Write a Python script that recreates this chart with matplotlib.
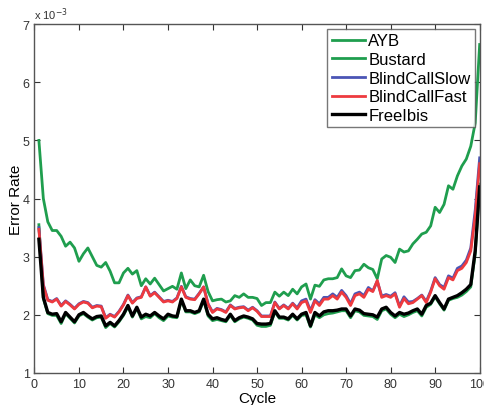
import numpy as np
import matplotlib
matplotlib.use("Agg")
import matplotlib.pyplot as plt

plt.rcParams['font.family'] = ['Liberation Sans', 'DejaVu Sans']

cycles = list(range(1, 101))

# error rates in units of 1e-3
bustard = [5.0, 4.0, 3.6, 3.45, 3.45, 3.35, 3.18, 3.25, 3.15, 2.92,
           3.05, 3.15, 3.0, 2.85, 2.82, 2.9, 2.75, 2.55, 2.55, 2.72,
           2.8, 2.7, 2.76, 2.5, 2.62, 2.53, 2.63, 2.52, 2.41, 2.45,
           2.49, 2.44, 2.72, 2.45, 2.6, 2.5, 2.48, 2.68, 2.4, 2.24,
           2.26, 2.27, 2.22, 2.24, 2.33, 2.3, 2.36, 2.3, 2.3, 2.28,
           2.16, 2.21, 2.21, 2.39, 2.32, 2.39, 2.33, 2.44, 2.36, 2.48,
           2.53, 2.27, 2.51, 2.49, 2.6, 2.62, 2.62, 2.64, 2.79, 2.67,
           2.64, 2.76, 2.77, 2.87, 2.81, 2.78, 2.62, 2.96, 3.02, 2.99,
           2.9, 3.13, 3.08, 3.1, 3.22, 3.3, 3.39, 3.42, 3.53, 3.85,
           3.76, 3.9, 4.22, 4.16, 4.39, 4.56, 4.68, 4.9, 5.3, 6.65]

ayb = [3.55, 2.28, 2.02, 1.99, 1.99, 1.85, 2.02, 1.94, 1.86, 1.98,
       2.02, 1.96, 1.91, 1.95, 1.96, 1.78, 1.85, 1.79, 1.88, 1.99,
       2.14, 1.96, 2.11, 1.93, 1.97, 1.95, 2.02, 1.95, 1.9, 1.98,
       1.96, 1.95, 2.25, 2.05, 2.05, 2.02, 2.05, 2.25, 1.98, 1.9,
       1.92, 1.9, 1.88, 1.99, 1.88, 1.93, 1.96, 1.94, 1.91, 1.82,
       1.8, 1.8, 1.82, 2.05, 1.94, 1.94, 1.91, 1.99, 1.91, 1.99,
       2.0, 1.79, 2.0, 1.95, 2.0, 2.02, 2.03, 2.05, 2.07, 2.07,
       1.95, 2.07, 2.05, 1.99, 1.98, 1.97, 1.92, 2.07, 2.1, 2.01,
       1.95, 2.01, 1.97, 2.0, 2.04, 2.07, 1.98, 2.13, 2.18, 2.31,
       2.19, 2.08, 2.25, 2.28, 2.3, 2.34, 2.4, 2.48, 3.05, 4.25]

slow = [3.5, 2.52, 2.26, 2.23, 2.28, 2.16, 2.24, 2.18, 2.11, 2.19,
        2.23, 2.21, 2.13, 2.16, 2.15, 1.95, 2.01, 1.97, 2.06, 2.18,
        2.34, 2.21, 2.29, 2.31, 2.48, 2.33, 2.39, 2.31, 2.23, 2.25,
        2.23, 2.29, 2.49, 2.31, 2.28, 2.27, 2.37, 2.48, 2.19, 2.05,
        2.11, 2.09, 2.05, 2.17, 2.11, 2.13, 2.14, 2.08, 2.13, 2.07,
        1.98, 1.98, 1.98, 2.22, 2.11, 2.17, 2.11, 2.2, 2.12, 2.24,
        2.27, 2.07, 2.26, 2.19, 2.3, 2.3, 2.36, 2.3, 2.42, 2.33,
        2.19, 2.36, 2.39, 2.33, 2.47, 2.41, 2.58, 2.32, 2.35, 2.32,
        2.38, 2.15, 2.31, 2.22, 2.23, 2.28, 2.34, 2.23, 2.41, 2.64,
        2.52, 2.47, 2.67, 2.63, 2.8, 2.84, 2.94, 3.15, 3.8, 4.7]

fast = [3.47, 2.5, 2.25, 2.22, 2.27, 2.15, 2.23, 2.17, 2.1, 2.18,
        2.22, 2.2, 2.12, 2.15, 2.14, 1.94, 2.0, 1.96, 2.05, 2.17,
        2.33, 2.2, 2.28, 2.3, 2.48, 2.32, 2.38, 2.3, 2.22, 2.24,
        2.22, 2.28, 2.48, 2.3, 2.27, 2.26, 2.36, 2.48, 2.18, 2.04,
        2.1, 2.08, 2.04, 2.16, 2.1, 2.12, 2.13, 2.07, 2.12, 2.06,
        1.97, 1.97, 1.97, 2.21, 2.1, 2.16, 2.1, 2.19, 2.1, 2.21,
        2.24, 2.04, 2.24, 2.16, 2.27, 2.27, 2.33, 2.27, 2.39, 2.3,
        2.16, 2.33, 2.36, 2.3, 2.44, 2.4, 2.59, 2.3, 2.33, 2.3,
        2.36, 2.13, 2.28, 2.19, 2.21, 2.27, 2.33, 2.21, 2.39, 2.62,
        2.5, 2.44, 2.64, 2.6, 2.76, 2.8, 2.9, 3.1, 3.7, 4.6]

freeibis = [3.3, 2.3, 2.04, 2.01, 2.02, 1.88, 2.04, 1.96, 1.88, 2.0,
            2.04, 1.98, 1.93, 1.97, 1.98, 1.81, 1.87, 1.81, 1.9, 2.01,
            2.16, 1.98, 2.13, 1.96, 2.01, 1.98, 2.04, 1.98, 1.93, 2.01,
            1.98, 1.97, 2.27, 2.07, 2.07, 2.04, 2.07, 2.27, 2.01, 1.93,
            1.95, 1.92, 1.9, 2.01, 1.9, 1.95, 1.98, 1.96, 1.93, 1.85,
            1.84, 1.84, 1.85, 2.07, 1.96, 1.96, 1.93, 2.01, 1.93, 2.01,
            2.04, 1.81, 2.04, 1.98, 2.05, 2.07, 2.07, 2.08, 2.1, 2.1,
            1.98, 2.1, 2.08, 2.02, 2.01, 2.0, 1.96, 2.1, 2.13, 2.04,
            1.98, 2.04, 2.01, 2.03, 2.07, 2.1, 2.01, 2.16, 2.2, 2.33,
            2.21, 2.1, 2.27, 2.3, 2.33, 2.38, 2.44, 2.52, 3.1, 4.2]

green = '#1f9e4e'
fig = plt.figure(figsize=(4.85, 4.06), dpi=100)
ax = fig.add_axes([0.071, 0.079, 0.918, 0.859])

ax.plot(cycles, ayb, color=green, lw=2, label='AYB')
ax.plot(cycles, bustard, color=green, lw=2, label='Bustard')
ax.plot(cycles, slow, color='#4b55b5', lw=2, label='BlindCallSlow')
ax.plot(cycles, fast, color='#ee3a3f', lw=2, label='BlindCallFast')
ax.plot(cycles, freeibis, color='black', lw=2.4, label='FreeIbis')

ax.set_xlim(0, 100)
ax.set_ylim(1, 7)
ax.set_xticks(range(0, 101, 10))
ax.set_yticks(range(1, 8))
ax.tick_params(direction='in', top=True, right=True, labelsize=9,
               colors='#333333', length=4)
for s in ax.spines.values():
    s.set_color('#555555')
    s.set_linewidth(1.0)

ax.set_xlabel('Cycle', fontsize=11, labelpad=1)
ax.set_ylabel('Error Rate', fontsize=11, labelpad=-0.5)
ax.text(0.0, 1.005, r'x 10$^{-3}$', transform=ax.transAxes, fontsize=8,
        ha='left', va='bottom', color='#333333')

leg = ax.legend(loc='upper right', fontsize=12, frameon=True, fancybox=False,
                borderpad=0.25, labelspacing=0.22, handlelength=2.0,
                handletextpad=0.2, borderaxespad=0.3)
leg.get_frame().set_edgecolor('#555555')
leg.get_frame().set_linewidth(1.0)

fig.savefig('out.png', dpi=100)
